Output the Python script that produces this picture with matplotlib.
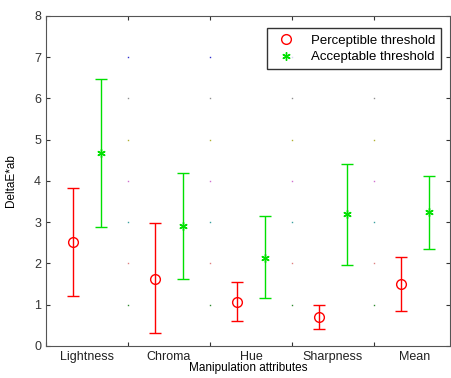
import numpy as np
import matplotlib
matplotlib.use("Agg")
import matplotlib.pyplot as plt
from matplotlib.lines import Line2D

attributes = ["Lightness", "Chroma", "Hue", "Sharpness", "Mean"]

perc_mean = [2.52, 1.63, 1.07, 0.70, 1.49]
perc_low = [1.22, 0.31, 0.61, 0.42, 0.84]
perc_high = [3.83, 2.97, 1.56, 0.98, 2.15]

acc_mean = [4.68, 2.90, 2.14, 3.19, 3.24]
acc_low = [2.87, 1.63, 1.15, 1.97, 2.34]
acc_high = [6.48, 4.19, 3.16, 4.42, 4.12]

# odd colours of the grid dots, one per y level (1..7)
grid_colors = ["#2e8b2e", "#e08080", "#3aa0a0", "#d070d0", "#b0b030", "#909090", "#3030d0"]

plt.rcParams['font.family'] = ['Liberation Sans', 'DejaVu Sans']

fig = plt.figure(figsize=(4.51, 3.78), dpi=100)
ax = fig.add_axes([0.102, 0.085, 0.896, 0.873])

n = len(attributes)
idx = np.arange(n)
star = (6, 2, 0)

pm = np.array(perc_mean)
pe = [pm - np.array(perc_low), np.array(perc_high) - pm]
am = np.array(acc_mean)
ae = [am - np.array(acc_low), np.array(acc_high) - am]

ax.errorbar(idx + 1/3, pm, yerr=pe, fmt='o', color='red', mfc='none',
            ms=7, mew=1, elinewidth=1, capsize=4, capthick=1)
ax.errorbar(idx + 2/3, am, yerr=ae, fmt='none', color='#00e000',
            elinewidth=1, capsize=4, capthick=1)
ax.plot(idx + 2/3, am, ls='none', marker=star, color='#00e000', ms=6, mew=1)

# dotted grid: only dots at the intersections are visible
for yi, c in zip(range(1, 8), grid_colors):
    for xi in range(1, 6):
        ax.plot(xi, yi, marker='s', ms=1, color=c, mew=0, zorder=0)

ax.set_xlim(0, 4.93)
ax.set_ylim(0, 8)
ax.set_xticks(np.arange(0, 5))
ax.set_xticklabels([])
ax.set_xticks(idx + 0.5, minor=True)
ax.set_xticklabels(attributes, minor=True)
ax.tick_params(axis='x', which='minor', length=0, pad=4)
ax.set_yticks(np.arange(0, 9))
ax.tick_params(which='major', direction='in', length=3, top=True, right=True,
               labelsize=9, colors='#333333')
ax.tick_params(axis='x', which='minor', labelsize=9, labelcolor='#222222')
for s in ax.spines.values():
    s.set_color('#555555')

ax.set_ylabel("DeltaE*ab", fontsize=8.5, labelpad=12)
ax.set_xlabel("Manipulation attributes", fontsize=8.5, labelpad=-1)

handles = [
    Line2D([], [], ls='none', marker='o', color='red', mfc='none', ms=7, mew=1),
    Line2D([], [], ls='none', marker=star, color='#00e000', ms=6, mew=1),
]
labels = ["Perceptible threshold", "Acceptable threshold"]
leg = ax.legend(handles, labels, loc='upper right', bbox_to_anchor=(0.995, 0.982),
                fontsize=9.5, frameon=True, fancybox=False, edgecolor='black',
                handlelength=2.0, handletextpad=0.9, borderpad=0.45,
                labelspacing=0.35, numpoints=1)
leg.get_frame().set_linewidth(1)

fig.savefig("out.png", dpi=100)
